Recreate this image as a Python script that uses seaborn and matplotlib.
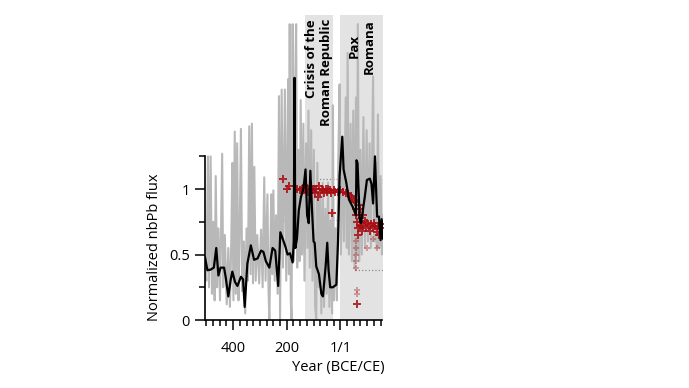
import numpy as np
import pandas as pd
import matplotlib.pyplot as plt
import seaborn as sns

# --- DATA (BCE years negative) ---
gray_years = [-505, -500, -494, -490, -484, -479, -474, -469, -465, -460, -455, -449,
              -441, -437, -431, -424, -418, -412, -407, -403, -399, -394, -390, -385,
              -380, -376, -371, -366, -360, -355, -350, -345, -340, -335, -330, -326,
              -321, -316, -310, -303, -296, -290, -284, -279, -272, -268, -265, -261,
              -258, -254, -250, -245, -240, -234, -229, -225, -219, -214, -207, -202,
              -195, -192, -189, -185, -182, -178, -175, -170, -165, -161, -157, -152,
              -148, -143, -138, -134, -128, -123, -119, -114, -109, -104, -99, -94,
              -90, -86, -81, -76, -71, -66, -61, -56, -51, -46, -41, -36,
              -31, -28, -24, -18, -13, -8, -3, 2, 8, 13, 20, 24,
              27, 32, 38, 43, 48, 53, 58, 62, 65, 70, 75, 80,
              86, 92, 98, 103, 109, 114, 122, 127, 132, 136, 140, 145,
              150, 155, 159]
gray_flux = [0.45, 0.30, 1.25, 0.25, 1.25, 0.20, 0.75, 0.15, 1.10, 0.25, 0.70, 0.15,
             1.27, 0.25, 0.65, 0.12, 0.55, 0.10, 0.60, 1.20, 0.15, 1.44, 0.20, 1.35,
             0.15, 0.60, 1.46, 0.22, 0.60, 0.05, 0.70, 0.30, 1.48, 0.35, 1.50, 0.28,
             1.17, 0.30, 0.65, 0.28, 0.69, 0.25, 1.09, 0.30, 0.96, 0.22, 0.00, 0.50,
             0.96, 0.35, 0.99, 0.30, 0.80, 0.20, 1.71, 0.00, 1.76, 0.40, 1.76, 0.30,
             1.84, 0.35, 2.26, 0.15, 0.00, 2.26, 0.45, 1.60, 2.26, 0.40, 1.30, 0.45,
             1.68, 0.50, 1.50, 0.30, 1.35, 0.55, 1.60, 0.40, 1.45, 0.30, 1.30, 0.10,
             0.00, 1.20, 0.25, 0.95, 0.05, 1.05, 0.10, 0.85, 0.20, 1.05, 0.10, 0.75,
             0.05, 1.64, 0.15, 0.70, 0.15, 1.20, 1.80, 0.50, 1.40, 0.60, 1.70, 0.55,
             2.04, 0.50, 1.50, 0.45, 1.60, 0.40, 1.70, 0.50, 2.26, 0.45, 1.30, 0.50,
             1.55, 0.55, 1.45, 0.60, 1.35, 0.55, 1.86, 0.60, 1.20, 0.55, 1.57, 0.55,
             1.10, 0.50, 0.80]

black_years = [-505, -496, -484, -472, -463, -455, -447, -434, -428, -418, -409, -403,
               -393, -384, -371, -363, -357, -347, -334, -322, -309, -296, -287, -278,
               -265, -253, -243, -232, -224, -215, -205, -197, -188, -178, -174, -171,
               -168, -162, -155, -147, -138, -130, -124, -118, -112, -106, -100, -96,
               -90, -80, -71, -65, -55, -49, -44, -38, -28, -15, -9, -3,
               7, 12, 22, 32, 47, 58, 60, 64, 72, 77, 91, 99,
               110, 116, 122, 129, 137, 144, 150, 154, 159]
black_flux = [0.48, 0.38, 0.385, 0.40, 0.55, 0.34, 0.40, 0.40, 0.33, 0.18, 0.31, 0.37,
              0.29, 0.26, 0.33, 0.31, 0.10, 0.43, 0.57, 0.46, 0.47, 0.53, 0.52, 0.45,
              0.40, 0.55, 0.53, 0.26, 0.67, 0.62, 0.56, 0.50, 0.51, 0.44, 0.60, 1.85,
              0.55, 0.62, 0.84, 0.94, 1.00, 1.15, 0.80, 0.74, 1.14, 0.85, 0.60, 0.59,
              0.41, 0.35, 0.20, 0.18, 0.41, 0.59, 0.38, 0.25, 0.25, 0.27, 0.59, 1.10,
              1.40, 1.15, 1.05, 0.92, 0.86, 0.80, 1.22, 1.20, 0.77, 0.74, 0.94, 1.07,
              1.08, 1.04, 0.89, 1.25, 0.79, 0.79, 0.61, 0.77, 0.62]

red_years = [-215, -200, -190, -160, -150, -145, -140, -135, -130, -125, -120, -115,
             -110, -105, -100, -95, -90, -85, -80, -75, -70, -65, -60, -55,
             -50, -45, -40, -35, -30, -25, -20, -10, 0, 10, 20, 30,
             40, 45, 50, 55, 58, 60, 62, 64, 66, 68, 70, 72,
             75, 78, 80, 83, 86, 90, 95, 100, 105, 110, 115, 120,
             125, 130, 135, 140, 145, 150, 155, 63]
red_flux = [1.08, 1.00, 1.02, 1.00, 0.99, 1.00, 1.01, 0.99, 1.00, 1.01, 0.98, 1.00,
            1.02, 0.99, 1.00, 0.97, 1.00, 0.94, 1.02, 0.98, 1.00, 0.99, 0.97, 1.00,
            0.98, 1.00, 0.99, 0.97, 0.82, 0.99, 0.98, 0.98, 0.99, 0.98, 0.97, 0.96,
            0.95, 0.93, 0.92, 0.90, 0.85, 0.80, 0.75, 0.70, 0.65, 0.88, 0.80, 0.72,
            0.85, 0.75, 0.68, 0.80, 0.72, 0.76, 0.70, 0.74, 0.72, 0.68, 0.73, 0.70,
            0.74, 0.72, 0.67, 0.72, 0.65, 0.70, 0.73, 0.12]

# faint outliers below the main cloud
pink_years = [57, 57, 58, 58, 59, 62, 62, 100, 120, 135]
pink_flux = [0.60, 0.55, 0.50, 0.45, 0.40, 0.23, 0.20, 0.55, 0.62, 0.55]

# shaded historical periods (start, end, label)
periods = [(-133, -27, "Crisis of the\nRoman Republic"), (0, 159, "Pax\nRomana")]

# dotted reference boxes
box_x = [-215, 159]
box_levels = [1.076, 0.765]
low_box_x = [56, 159]
low_level = 0.38

x_major = [-400, -200, 0]
x_major_labels = ["400", "200", "1/1"]

XMIN, XMAX = -505, 159
YTOP = 2.33

RED = "#a80d12"


def make_plot():
    sns.set_theme(style="ticks")
    plt.rcParams["font.family"] = ["Open Sans", "DejaVu Sans"]
    plt.rcParams["text.color"] = "black"
    plt.rcParams["axes.labelcolor"] = "black"
    plt.rcParams["xtick.color"] = "black"
    plt.rcParams["ytick.color"] = "black"

    fig = plt.figure(figsize=(6.89, 3.88), dpi=100)
    ax = fig.add_axes([205 / 689, 68 / 388, 178 / 689, 305 / 388])

    # period shading
    for start, end, label in periods:
        ax.axvspan(start, end, ymin=0, ymax=1, color="#e3e3e3", lw=0, zorder=0)

    # dotted boxes
    for lvl in box_levels:
        ax.plot(box_x, [lvl, lvl], color="#8c8c8c", ls=":", lw=0.9, zorder=1)
    ax.plot([box_x[0]] * 2, box_levels, color="#bdbdbd", ls=":", lw=3, zorder=1)
    ax.plot([box_x[1]] * 2, box_levels, color="#8c8c8c", ls=":", lw=0.9, zorder=1)
    ax.plot(low_box_x, [low_level, low_level], color="#8c8c8c", ls=":", lw=0.9, zorder=1)
    ax.plot([low_box_x[0]] * 2, [low_level, box_levels[1]], color="#8c8c8c", ls=":", lw=0.9, zorder=1)

    gray_df = pd.DataFrame({"year": gray_years, "flux": gray_flux})
    black_df = pd.DataFrame({"year": black_years, "flux": black_flux})

    sns.lineplot(data=gray_df, x="year", y="flux", ax=ax, color="#b8b8b8",
                 lw=1.5, sort=False, estimator=None, zorder=2)
    sns.scatterplot(x=pink_years, y=pink_flux, ax=ax, marker="P", s=18,
                    color=RED, alpha=0.35, linewidth=0, zorder=3)
    sns.scatterplot(x=red_years, y=red_flux, ax=ax, marker="P", s=34,
                    color=RED, alpha=0.85, linewidth=0, zorder=3)
    sns.lineplot(data=black_df, x="year", y="flux", ax=ax, color="black",
                 lw=1.6, sort=False, estimator=None, zorder=4)

    # period labels (rotated, top of the panel)
    for start, end, label in periods:
        align = "right" if "Crisis" in label else "center"
        ax.text((start + end) / 2, YTOP - 0.03, label, rotation=90, ha="center",
                va="top", multialignment=align, fontsize=9.5, fontweight="bold",
                color="black", zorder=5)

    ax.set_xlim(XMIN, XMAX)
    ax.set_ylim(0, YTOP)

    ax.set_xticks(x_major)
    ax.set_xticklabels(x_major_labels)
    ax.set_xticks([v for v in range(-500, 151, 25) if v not in x_major], minor=True)
    ax.set_yticks([0, 0.5, 1])
    ax.set_yticklabels(["0", "0.5", "1"])
    ax.set_yticks([0.25, 0.75, 1.25], minor=True)

    ax.tick_params(axis="both", which="major", labelsize=10.5, width=1.1, color="black")
    ax.tick_params(axis="x", which="major", length=7, pad=8)
    ax.tick_params(axis="y", which="major", length=7, pad=4)
    ax.tick_params(axis="both", which="minor", length=4, width=1.1, color="black")

    for side in ["top", "right"]:
        ax.spines[side].set_visible(False)
    ax.spines["left"].set_bounds(0, 1.25)
    ax.spines["bottom"].set_bounds(-500, 155)
    for side in ["left", "bottom"]:
        ax.spines[side].set_linewidth(1.2)
        ax.spines[side].set_color("black")

    ax.set_xlabel("Year (BCE/CE)", fontsize=10.5, labelpad=1)
    ax.set_ylabel("Normalized nbPb flux", fontsize=10.5, labelpad=6)
    ax.yaxis.set_label_coords(-0.24, 0.24)
    ax.xaxis.set_label_coords(0.75, -0.13)
    ax.patch.set_visible(False)

    fig.savefig("out.png", dpi=100)


if __name__ == "__main__":
    make_plot()
